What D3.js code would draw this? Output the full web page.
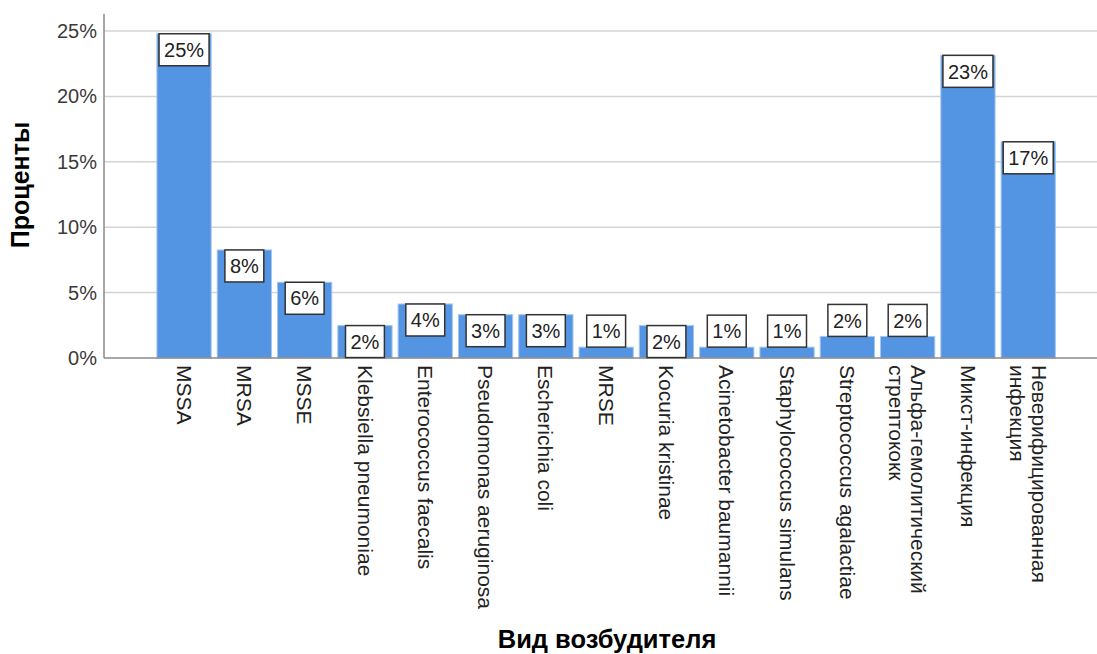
<!DOCTYPE html>
<html>
<head>
<meta charset="utf-8">
<script src="https://cdn.jsdelivr.net/npm/d3@7"></script>
<style>
  html, body { margin: 0; padding: 0; background: #fff; }
  svg { display: block; font-family: "Liberation Sans", Arial, sans-serif; }
</style>
</head>
<body>
<svg id="chart" width="1097" height="654"></svg>
<script>
// Pathogen categories (multi-line names split with "\n")
const categories = [
  "MSSA", "MRSA", "MSSE", "Klebsiella pneumoniae", "Enterococcus faecalis",
  "Pseudomonas aeruginosa", "Escherichia coli", "MRSE", "Kocuria kristinae",
  "Acinetobacter baumannii", "Staphylococcus simulans", "Streptococcus agalactiae",
  "Альфа-гемолитический\nстрептококк", "Микст-инфекция", "Неверифицированная\nинфекция"
];
// Share of cases, percent
const percents = [
  24.79, 8.26, 5.79, 2.48, 4.13,
  3.31, 3.31, 0.83, 2.48,
  0.83, 0.83, 1.65,
  1.65, 23.14, 16.53
];
const yTicks = [0, 5, 10, 15, 20, 25];
const yTitle = "Проценты";
const xTitle = "Вид возбудителя";

const svg = d3.select("#chart");
const plotLeft = 104, plotRight = 1097, plotTop = 14, plotBottom = 358;

const x = d3.scaleBand()
  .domain(categories)
  .range([153.9, 1058.4])
  .paddingInner(0.1)
  .paddingOuter(0.05);

const y = d3.scaleLinear()
  .domain([0, 26.3])
  .range([plotBottom, plotTop]);

// Horizontal grid lines
svg.append("g")
  .selectAll("line")
  .data(yTicks.filter(d => d > 0))
  .join("line")
  .attr("x1", plotLeft).attr("x2", plotRight)
  .attr("y1", d => y(d)).attr("y2", d => y(d))
  .attr("stroke", "#d4d4d4")
  .attr("stroke-width", 1.5);

// Y axis
const yAxis = svg.append("g")
  .attr("transform", `translate(${plotLeft},0)`)
  .call(d3.axisLeft(y).tickValues(yTicks).tickSize(0).tickPadding(7)
    .tickFormat(d => d + "%"));
yAxis.select(".domain").remove();
yAxis.selectAll("text")
  .attr("font-size", 20)
  .attr("fill", "#3a3a3a")
  .style("font-family", "'Liberation Sans', Arial, sans-serif");

// Bars
svg.append("g")
  .selectAll("rect")
  .data(categories)
  .join("rect")
  .attr("x", d => x(d))
  .attr("width", x.bandwidth())
  .attr("y", (d, i) => y(percents[i]))
  .attr("height", (d, i) => plotBottom - y(percents[i]))
  .attr("fill", "#5495e3")
  .attr("stroke", "#a4c7f0")
  .attr("stroke-width", 1);

// Axis lines
svg.append("line")
  .attr("x1", plotLeft).attr("x2", plotLeft)
  .attr("y1", plotTop).attr("y2", plotBottom)
  .attr("stroke", "#8a8a8a").attr("stroke-width", 1.5);
svg.append("line")
  .attr("x1", plotLeft).attr("x2", plotRight)
  .attr("y1", plotBottom).attr("y2", plotBottom)
  .attr("stroke", "#8a8a8a").attr("stroke-width", 1.5);

// Value labels in boxes
const boxH = 32, padX = 5;
const lab = svg.append("g")
  .selectAll("g")
  .data(categories)
  .join("g");
lab.each(function (d, i) {
  const g = d3.select(this);
  const v = percents[i];
  const cx = x(d) + x.bandwidth() / 2;
  const barTop = y(v);
  const inside = (plotBottom - barTop) >= boxH;
  const boxTop = inside ? barTop : barTop - boxH;
  const rect = g.append("rect");
  const t = g.append("text")
    .attr("x", cx)
    .attr("y", boxTop + boxH / 2)
    .attr("dy", "0.36em")
    .attr("text-anchor", "middle")
    .attr("font-size", 20)
    .attr("fill", "#222")
    .text(d3.format(".0f")(v) + "%");
  const w = t.node().getComputedTextLength() + padX * 2;
  rect.attr("x", cx - w / 2)
    .attr("y", boxTop)
    .attr("width", w)
    .attr("height", boxH)
    .attr("fill", "#fff")
    .attr("stroke", "#333")
    .attr("stroke-width", 1.5);
});

// Category labels, rotated to read downwards
const xl = svg.append("g")
  .selectAll("text")
  .data(categories)
  .join("text")
  .attr("transform", d => `translate(${x(d) + x.bandwidth() / 2},365) rotate(90)`)
  .attr("text-anchor", "start")
  .attr("font-size", 21)
  .attr("fill", "#222");
xl.each(function (d) {
  const lines = d.split("\n");
  const t = d3.select(this);
  const lh = 1.05;
  const first = 0.35 - (lines.length - 1) * lh / 2;
  lines.forEach((s, k) => {
    t.append("tspan")
      .attr("x", 0)
      .attr("dy", (k === 0 ? first : lh) + "em")
      .text(s);
  });
});

// Axis titles
svg.append("text")
  .attr("transform", "translate(29,185) rotate(-90)")
  .attr("text-anchor", "middle")
  .attr("font-size", 25)
  .attr("font-weight", "bold")
  .attr("fill", "#000")
  .text(yTitle);
svg.append("text")
  .attr("x", 607)
  .attr("y", 648)
  .attr("text-anchor", "middle")
  .attr("font-size", 25.5)
  .attr("font-weight", "bold")
  .attr("fill", "#000")
  .text(xTitle);
</script>
</body>
</html>
